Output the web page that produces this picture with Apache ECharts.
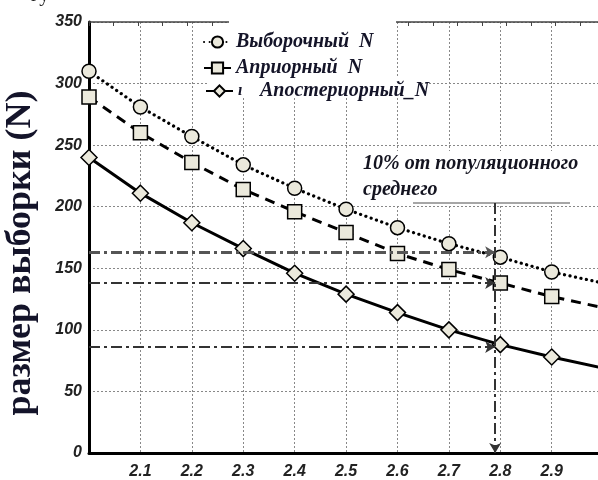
<!DOCTYPE html>
<html>
<head>
<meta charset="utf-8">
<script src="https://cdn.jsdelivr.net/npm/echarts@6/dist/echarts.min.js"></script>
<style>
  html, body { margin: 0; padding: 0; background: #fff; }
  #chart { width: 598px; height: 480px; }
</style>
</head>
<body>
<div id="chart"></div>
<script>
// Sample size as a function of the z-parameter, three estimates
const xValues       = [2.0, 2.1, 2.2, 2.3, 2.4, 2.5, 2.6, 2.7, 2.8, 2.9, 3.0];
const sampleN       = [310, 281, 257, 234, 215, 198, 183, 170, 159, 147, 138];
const priorN        = [289, 260, 236, 214, 196, 179, 162, 149, 138, 127, 118];
const posteriorN    = [240, 211, 187, 166, 146, 129, 114, 100, 88, 78, 69];

const seriesNames   = ['Выборочный  N', 'Априорный  N', 'Апостериорный_N'];

// Guide lines read at 10% of the population mean
const guideLevels   = [163, 138, 86];
const guideX        = 2.79;
const guideTop      = 203;

const serif = '"Liberation Serif", "Times New Roman", serif';
const sans  = '"Liberation Sans", Arial, sans-serif';
const markerFill = '#ebe9dc';

function toPoints(values) {
  const last = values.length - 1;
  return values.map((v, i) => i === last
    ? { value: [xValues[i], v], symbol: 'none' }
    : [xValues[i], v]);
}

const chart = echarts.init(document.getElementById('chart'), null, { renderer: 'canvas' });

const legendText = {
  fontFamily: serif, fontStyle: 'italic', fontWeight: 'bold',
  fontSize: 20, lineHeight: 20, color: '#141428'
};

const guideStyles = [
  { color: '#555', width: 3, type: [11, 4, 3, 4] },
  { color: '#333', width: 1.8, type: [11, 4, 3, 4] },
  { color: '#333', width: 1.8, type: [11, 4, 3, 4] }
];

const markData = guideLevels.map((lvl, i) => [
  { coord: [xValues[0], lvl], lineStyle: guideStyles[i] },
  { coord: [guideX, lvl] }
]);
markData.push([
  { coord: [guideX, guideTop], lineStyle: { color: '#333', width: 2, type: [11, 4, 3, 4] } },
  { coord: [guideX, 0] }
]);

const option = {
  animation: false,
  grid: { left: 89, top: 22, width: 510, height: 431, containLabel: false },
  xAxis: [
    {
      type: 'value', min: 2.0, max: 2.99, interval: 0.1,
      axisLine: { show: true, onZero: false, lineStyle: { color: '#000', width: 3 } },
      axisTick: { show: false },
      axisLabel: {
        showMinLabel: false, showMaxLabel: false, margin: 11,
        fontFamily: sans, fontStyle: 'italic', fontWeight: 'bold', fontSize: 16, color: '#222',
        formatter: v => v.toFixed(1)
      },
      splitLine: { show: true, lineStyle: { color: '#888', width: 1, type: [2, 2] } }
    },
    {
      type: 'value', position: 'top', min: 0, max: 20.73, interval: 1,
      axisLine: { show: true, onZero: false, lineStyle: { color: '#444', width: 1.5 } },
      axisTick: { show: true, inside: true, length: 4, lineStyle: { color: '#444', width: 1 } },
      axisLabel: { show: false },
      splitLine: { show: false }
    }
  ],
  yAxis: {
    type: 'value', min: 0, max: 350, interval: 50,
    axisLine: { show: true, onZero: false, lineStyle: { color: '#000', width: 3 } },
    axisTick: { show: false },
    axisLabel: {
      margin: 7, fontFamily: sans, fontStyle: 'italic', fontWeight: 'bold', fontSize: 16, color: '#222'
    },
    splitLine: { show: true, lineStyle: { color: '#888', width: 1, type: [2, 2] } }
  },
  legend: [
    { data: [seriesNames[0]], left: 198, top: 27, itemWidth: 27, itemHeight: 14, itemGap: 0,
      selectedMode: false, textStyle: legendText, z: 10 },
    { data: [seriesNames[1]], left: 198, top: 53, itemWidth: 27, itemHeight: 14, itemGap: 0,
      selectedMode: false, textStyle: legendText, z: 10 },
    { data: [seriesNames[2]], left: 200, top: 76, itemWidth: 27, itemHeight: 14, itemGap: 0,
      selectedMode: false, z: 10,
      formatter: name => '{a|ı}{b|' + name + '}',
      textStyle: Object.assign({}, legendText, {
        rich: {
          a: { width: 22, fontFamily: serif, fontStyle: 'italic', fontWeight: 'bold', fontSize: 16, color: '#141428' },
          b: legendText
        }
      }) }
  ],
  graphic: [
    // white backgrounds behind the legend and the note
    { type: 'rect', z: 3, shape: { x: 229, y: 19, width: 167, height: 57 }, style: { fill: '#fff' } },
    { type: 'rect', z: 3, shape: { x: 207, y: 76, width: 215, height: 20 }, style: { fill: '#fff' } },
    { type: 'rect', z: 3, shape: { x: 356, y: 151, width: 245, height: 53 }, style: { fill: '#fff' } },
    { type: 'line', z: 4, shape: { x1: 413, y1: 203, x2: 570, y2: 203 }, style: { stroke: '#888', lineWidth: 1.5 } },
    {
      type: 'text', z: 5, x: 363, y: 151,
      style: {
        text: '10% от популяционного\nсреднего',
        font: 'italic bold 20px ' + serif, lineHeight: 26, fill: '#141420'
      }
    },
    {
      type: 'text', z: 5, x: 21, y: 253, rotation: Math.PI / 2,
      style: {
        text: 'размер выборки (N)', font: 'bold 36px ' + serif,
        fill: '#14142a', align: 'center', verticalAlign: 'middle'
      }
    },
    {
      type: 'text', z: 5, x: 31, y: -14,
      style: { text: 'гу', font: '20px ' + serif, fill: '#222' }
    }
  ],
  series: [
    {
      name: seriesNames[0], type: 'line', data: toPoints(sampleN),
      symbol: 'circle', symbolSize: 14, z: 3,
      lineStyle: { color: '#000', width: 3.2, type: [0.1, 5.5], cap: 'round' },
      itemStyle: { color: markerFill, borderColor: '#000', borderWidth: 1.5 }
    },
    {
      name: seriesNames[1], type: 'line', data: toPoints(priorN),
      symbol: 'rect', symbolSize: 14, z: 3,
      lineStyle: { color: '#000', width: 3, type: [10, 7] },
      itemStyle: { color: markerFill, borderColor: '#000', borderWidth: 1.5 }
    },
    {
      name: seriesNames[2], type: 'line', data: toPoints(posteriorN),
      symbol: 'diamond', symbolSize: 16, z: 3,
      lineStyle: { color: '#000', width: 3, type: 'solid' },
      itemStyle: { color: markerFill, borderColor: '#000', borderWidth: 1.5 }
    },
    {
      name: 'guides', type: 'line', data: [], z: 2,
      markLine: {
        silent: true, animation: false,
        symbol: ['none', 'arrow'], symbolSize: [9, 10],
        label: { show: false },
        data: markData
      }
    }
  ]
};

chart.setOption(option);
</script>
</body>
</html>
